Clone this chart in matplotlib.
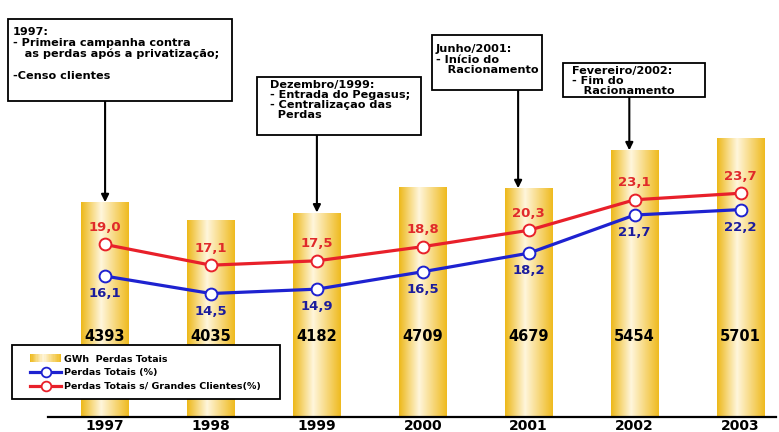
import matplotlib
matplotlib.use("Agg")
import matplotlib.pyplot as plt
import numpy as np
from matplotlib.patches import Rectangle
from matplotlib.lines import Line2D
from matplotlib.colors import LinearSegmentedColormap
from matplotlib.legend_handler import HandlerBase
import matplotlib.transforms as mtransforms

# ---------------- data ----------------
years = ["1997", "1998", "1999", "2000", "2001", "2002", "2003"]
gwh_perdas = [4393, 4035, 4182, 4709, 4679, 5454, 5701]
perdas_totais_pct = [16.1, 14.5, 14.9, 16.5, 18.2, 21.7, 22.2]
perdas_sem_gc_pct = [19.0, 17.1, 17.5, 18.8, 20.3, 23.1, 23.7]

legend_labels = ["GWh  Perdas Totais", "Perdas Totais (%)",
                 "Perdas Totais s/ Grandes Clientes(%)"]

events_idx = [0, 2, 4, 5]
events_text = [
    "1997:\n- Primeira campanha contra\n   as perdas após a privatização;\n\n-Censo clientes",
    "Dezembro/1999:\n- Entrada do Pegasus;\n- Centralizaçao das\n  Perdas",
    "Junho/2001:\n- Início do\n   Racionamento",
    "Fevereiro/2002:\n- Fim do\n   Racionamento",
]

# ---------------- style ----------------
W, H = 779, 432
RED = "#E8202A"
BLUE = "#1E22D0"
RED_TXT = "#E02A2A"
BLUE_TXT = "#1C1C9C"
gold = LinearSegmentedColormap.from_list(
    "gold", [(0.0, "#EDB818"), (0.42, "#FFF6DC"), (1.0, "#EFBA1E")])

plt.rcParams["font.family"] = ["DejaVu Sans"]

fig = plt.figure(figsize=(W / 100, H / 100), dpi=100)
fig.patch.set_facecolor("white")


def fx(px):
    return px / W


def fy(py):
    return 1 - py / H


ax = fig.add_axes([fx(48), fy(417), (776 - 48) / W, 417 / H])
x = np.arange(len(years))

bars = ax.bar(x, gwh_perdas, width=0.453, color="#F4C840", edgecolor="none", zorder=1)
grad = np.linspace(0, 1, 256).reshape(1, -1)
for b in bars:
    im = ax.imshow(grad, cmap=gold, aspect="auto", zorder=1.5,
                   extent=(b.get_x(), b.get_x() + b.get_width(), 0, b.get_height()))
    im.set_clip_path(b)

ax.set_xlim(-0.539, 6.335)
ax.set_ylim(0, 8528)
ax.set_xticks(x)
ax.set_xticklabels(years, fontsize=10, fontweight="bold")
ax.tick_params(axis="x", length=0, pad=1.5)
ax.set_yticks([])
for s in ["top", "left", "right"]:
    ax.spines[s].set_visible(False)
ax.spines["bottom"].set_linewidth(1.6)
ax.spines["bottom"].set_color("black")

# bar value labels
tr = mtransforms.blended_transform_factory(ax.transData, ax.transAxes)
for xi, v in zip(x, gwh_perdas):
    ax.text(xi, 0.194, f"{v}", transform=tr, ha="center", va="center",
            fontsize=10.5, fontweight="bold", color="black", zorder=3)

# percent lines
ax2 = ax.twinx()
ax2.set_ylim(3.17, 41.43)
ax2.set_yticks([])
for s in ax2.spines.values():
    s.set_visible(False)

ax2.plot(x, perdas_totais_pct, color=BLUE, lw=2.3, marker="o", ms=8.5,
         mfc="white", mec=BLUE, mew=1.4, zorder=3)
ax2.plot(x, perdas_sem_gc_pct, color=RED, lw=2.3, marker="o", ms=8.5,
         mfc="white", mec=RED, mew=1.4, zorder=3)

for xi, v in zip(x, perdas_sem_gc_pct):
    ax2.annotate(f"{v:.1f}".replace(".", ","), (xi, v), xytext=(0, 12.3),
                 textcoords="offset points", ha="center", va="center",
                 fontsize=9.5, fontweight="bold", color=RED_TXT)
for xi, v in zip(x, perdas_totais_pct):
    ax2.annotate(f"{v:.1f}".replace(".", ","), (xi, v), xytext=(0, -12.8),
                 textcoords="offset points", ha="center", va="center",
                 fontsize=9.5, fontweight="bold", color=BLUE_TXT)

# annotation boxes (pixel geometry: left, top, right, bottom, text inset,
# first line center, line spacing)
boxes = [
    (8, 19, 232, 101, 5, 33, 1.12),
    (257, 77, 421, 135, 13, 86, 0.98),
    (432, 35, 542, 90, 4, 50, 1.07),
    (563, 63, 705, 97, 9, 72, 0.97),
]
arrow_dx = [0.0, 0.0, -0.10, -0.05]
for (l, t, r, btm, ins, c1, ls), txt, idx, dx in zip(boxes, events_text, events_idx, arrow_dx):
    rect = Rectangle((fx(l), fy(btm)), (r - l) / W, (btm - t) / H,
                     transform=fig.transFigure, facecolor="white",
                     edgecolor="black", lw=1.3, zorder=4)
    fig.add_artist(rect)
    fig.text(fx(l + ins), fy(c1 - 6), txt, ha="left", va="top", fontsize=8.1,
             fontweight="bold", linespacing=ls, zorder=5)
    ax.annotate("", xy=(idx + dx, gwh_perdas[idx]), xycoords="data",
                xytext=(idx + dx, fy(btm)), textcoords=("data", "figure fraction"),
                arrowprops=dict(arrowstyle="-|>", color="black", lw=1.5,
                                shrinkA=0, shrinkB=0, mutation_scale=11),
                annotation_clip=False, zorder=4)


# legend
class GradHandler(HandlerBase):
    def create_artists(self, legend, orig_handle, xdescent, ydescent,
                       width, height, fontsize, trans):
        n = 24
        arts = []
        for k in range(n):
            arts.append(Rectangle((-xdescent + width * k / n, -ydescent - 0.5),
                                  width / n * 1.1, height + 1,
                                  facecolor=gold((k + 0.5) / n),
                                  edgecolor="none", transform=trans))
        return arts


frame = Rectangle((fx(12), fy(399)), (280 - 12) / W, (399 - 345) / H,
                  transform=fig.transFigure, facecolor="white",
                  edgecolor="black", lw=1.3, zorder=4)
fig.add_artist(frame)

bar_handle = Rectangle((0, 0), 1, 1)
h_blue = Line2D([], [], color=BLUE, lw=2.3, marker="o", ms=7, mfc="white",
                mec=BLUE, mew=1.3)
h_red = Line2D([], [], color=RED, lw=2.3, marker="o", ms=7, mfc="white",
               mec=RED, mew=1.3)
leg = fig.legend([bar_handle, h_blue, h_red], legend_labels,
                 loc="upper left", bbox_to_anchor=(fx(30), fy(354.5)),
                 frameon=False, borderpad=0, borderaxespad=0,
                 handlelength=3.3, handletextpad=0.35, labelspacing=0.5,
                 prop=dict(size=6.8, weight="bold"),
                 handler_map={Rectangle: GradHandler()})
leg.set_zorder(6)

fig.savefig("out.png", dpi=100, facecolor="white")
